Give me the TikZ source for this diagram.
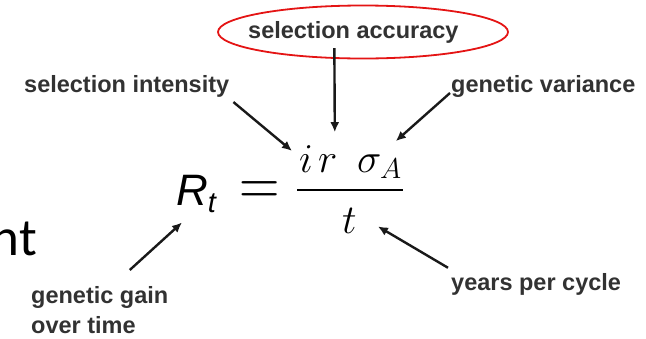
\RequirePackage{fix-cm}
\documentclass[tikz,border=0pt]{standalone}
\usepackage{fontspec}
\usepackage{graphicx}
\setsansfont{Liberation Sans}
\newfontfamily\slidefont{Carlito}
\usetikzlibrary{arrows.meta,positioning,shapes.geometric}
\definecolor{labelgray}{RGB}{50,50,50}
\definecolor{ringred}{RGB}{228,20,20}

\begin{document}
\begin{tikzpicture}[x=1pt,y=-1pt,
    lbl/.style={font=\sffamily\bfseries\fontsize{23.5}{30}\selectfont, text=labelgray, inner sep=0pt},
    sym/.style={font=\fontsize{41}{41}\selectfont, inner sep=0pt},
    pointer/.style={-{Latex[length=10pt,width=9pt]}, line width=2.4pt, black!90}]
\useasboundingbox (0,0) rectangle (646,338);

% leftover slide text
\node[font=\slidefont\fontsize{53}{53}\selectfont, inner sep=0pt, anchor=base east] (slidetext) at (37,255) {nt};

% the formula
\node[font=\sffamily\itshape\fontsize{44}{44}\selectfont, inner sep=0pt, anchor=base west] (Rt) at (176,205)
    {R\raisebox{-7pt}{\fontsize{29}{29}\selectfont t}};
\node[font=\fontsize{56}{56}\selectfont, inner sep=0pt, anchor=base west] (equals) at (239,205)
    {\scalebox{1}[1.2]{$=$}};
\node[sym, anchor=base west] (ivar) at (299,172) {$i$};
\node[sym, anchor=base west] (rvar) at (318,172) {$r$};
\node[sym, anchor=base west] (sigvar) at (357,172) {$\sigma_A$};
\node[sym, anchor=base west] (tvar) at (342,233) {$t$};
\draw[line width=2.6pt] (297,190) -- (403,190);

% labels
\node[lbl, anchor=base west] (accuracy) at (248,38) {selection accuracy};
\node[draw=ringred, line width=1.8pt, ellipse, minimum width=290pt, minimum height=53pt, inner sep=0pt] (ring) at (363,32) {};
\node[lbl, anchor=base west] (intensity) at (24,92) {selection intensity};
\node[lbl, anchor=base west] (variance) at (451,92) {genetic variance};
\node[lbl, anchor=base west] (years) at (451,290) {years per cycle};
\node[lbl, align=left, anchor=north west] (gain) at (31,286) {genetic gain\\over time};

% arrows
\draw[pointer] ([xshift=-19pt,yshift=-5pt]accuracy.south) -- ([xshift=7pt,yshift=22pt]rvar.north);
\draw[pointer] ([xshift=4pt,yshift=-5pt]intensity.south east) -- ([xshift=-7pt,yshift=-6pt]ivar.north west);
\draw[pointer] ([xshift=-1pt,yshift=-1pt]variance.base west) -- ([xshift=-6pt,yshift=13pt]sigvar.north east);
\draw[pointer] ([xshift=-3pt,yshift=5pt]years.north west) -- ([xshift=21pt,yshift=-6pt]tvar.east);
\draw[pointer] ([xshift=30pt,yshift=16pt]gain.north) -- ([xshift=6pt,yshift=-10pt]Rt.south west);
\end{tikzpicture}
\end{document}
